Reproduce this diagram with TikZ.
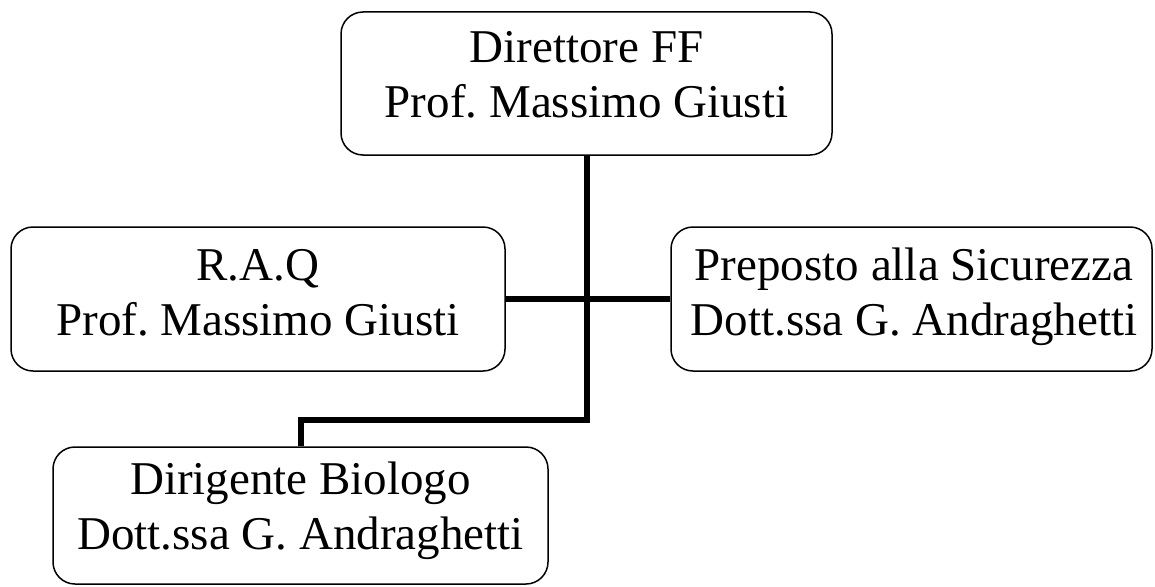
\documentclass[tikz,border=0pt]{standalone}
\usepackage{fontspec}
\setmainfont{Liberation Serif}
\frenchspacing
\begin{document}
\begin{tikzpicture}[x=1pt,y=-1pt,
  box/.style={draw, line width=1.5pt, rounded corners=22pt, inner sep=0pt},
  lbl/.style={align=center, font=\fontsize{47}{55}\selectfont, inner sep=0pt, anchor=north},
  link/.style={line width=6pt}]
\useasboundingbox (0,0) rectangle (1155,586);
% boxes
\node[box, minimum width=491pt, minimum height=143pt] (dir) at (586.5,83.5) {};
\node[box, minimum width=494pt, minimum height=144pt] (raq) at (258,299) {};
\node[box, minimum width=481pt, minimum height=144pt] (prep) at (911.5,299) {};
\node[box, minimum width=495pt, minimum height=137pt] (dirig) at (300.5,515.5) {};
% texts
\node[lbl] (tdir) at (586.5,30.7) {Direttore FF\\Prof. Massimo Giusti};
\node[lbl] (traq) at (258,249) {R.A.Q\\Prof. Massimo Giusti};
\node[lbl] (tprep) at (914,248) {Preposto alla Sicurezza\\Dott.ssa G. Andraghetti};
\node[lbl] (tdirig) at (300.5,462) {Dirigente Biologo\\Dott.ssa G. Andraghetti};
% connectors
\coordinate (j) at (586.5,420);
\draw[link] (dir.south) -- (j) -| (dirig.north);
\draw[link] (raq.east) -- (prep.west);
\end{tikzpicture}
\end{document}
